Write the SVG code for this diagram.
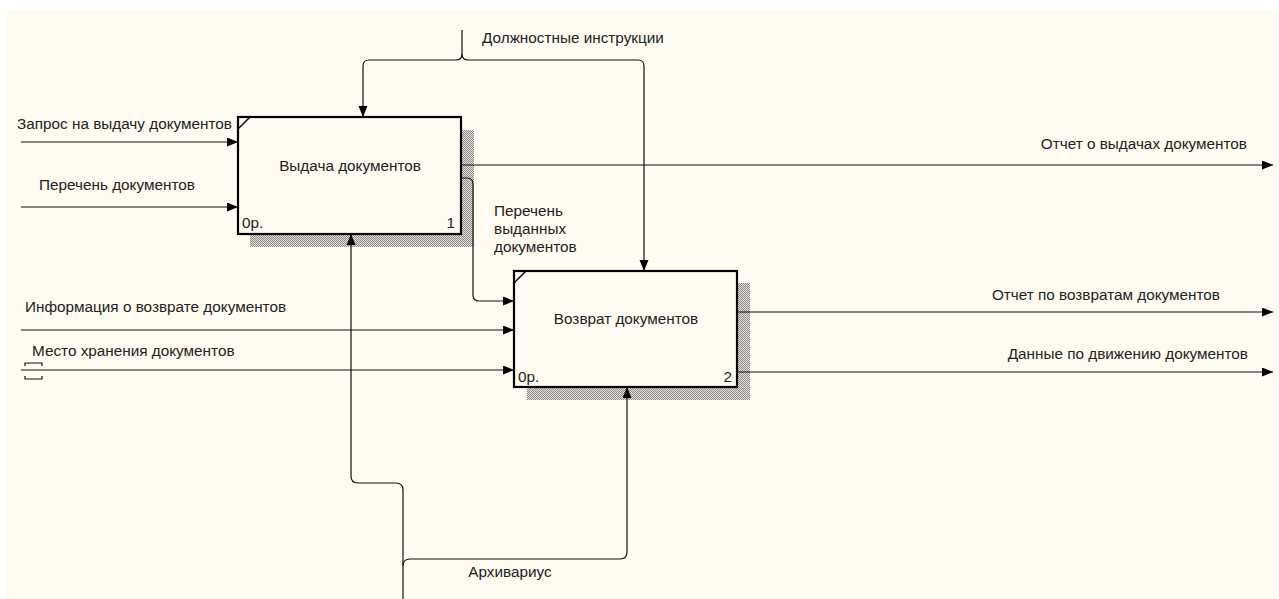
<svg xmlns="http://www.w3.org/2000/svg" width="1279" height="599" viewBox="0 0 1279 599">
<defs>
<style>
.t{font-family:"Liberation Sans",Arial,sans-serif;font-size:15.3px;fill:#222}
.c{fill:none;stroke:#111;stroke-width:1.2}
.box{fill:#FFFBF0;stroke:#000;stroke-width:2.2}
.sh{fill:url(#hatch)}
</style>
<pattern id="hatch" width="2" height="2" patternUnits="userSpaceOnUse">
<rect width="2" height="2" fill="#e6e2d8"/>
<rect x="0" y="0" width="1" height="1" fill="#8a8a8a"/>
<rect x="1" y="1" width="1" height="1" fill="#8a8a8a"/>
</pattern>
<marker id="ar" markerUnits="userSpaceOnUse" markerWidth="12" markerHeight="10" refX="11" refY="4.5" orient="auto">
<path d="M0,0 L11,4.5 L0,9 Z" fill="#000"/>
</marker>
</defs>
<rect x="0" y="0" width="1279" height="599" fill="#ffffff"/>
<rect x="7" y="10" width="1270" height="589" fill="#FFFBF0"/>

<g id="node1">
<rect class="sh" x="461" y="130" width="13" height="117"/>
<rect class="sh" x="250" y="234" width="224" height="13"/>
<rect class="box" x="238" y="117" width="223" height="117"/>
<line x1="238" y1="129" x2="250" y2="117" stroke="#000" stroke-width="1.5"/>
<text class="t" x="350" y="171" text-anchor="middle">Выдача документов</text>
<text class="t" x="242" y="228">0р.</text>
<text class="t" x="455" y="228" text-anchor="end">1</text>
</g>

<g id="node2">
<rect class="sh" x="737" y="283" width="13" height="117"/>
<rect class="sh" x="527" y="387" width="223" height="13"/>
<rect class="box" x="514" y="271" width="223" height="116"/>
<line x1="514" y1="283" x2="526" y2="271" stroke="#000" stroke-width="1.5"/>
<text class="t" x="626" y="324" text-anchor="middle">Возврат документов</text>
<text class="t" x="518" y="382">0р.</text>
<text class="t" x="732" y="382" text-anchor="end">2</text>
</g>

<g id="connectors">
<path class="c" d="M462,30 V54 Q462,60 456,60 H369 Q363,60 363,66 V117" marker-end="url(#ar)"/>
<path class="c" d="M462,54 Q462,60 468,60 H638 Q644,60 644,66 V271" marker-end="url(#ar)"/>
<path class="c" d="M21,142 H238" marker-end="url(#ar)"/>
<path class="c" d="M21,207 H238" marker-end="url(#ar)"/>
<path class="c" d="M21,330 H514" marker-end="url(#ar)"/>
<path class="c" d="M21,370 H514" marker-end="url(#ar)"/>
<path class="c" d="M25,366 V363 H42 V366 M25,376 V379 H42 V376"/>
<path class="c" d="M461,165 H1273" marker-end="url(#ar)"/>
<path class="c" d="M737,312 H1273" marker-end="url(#ar)"/>
<path class="c" d="M737,372 H1273" marker-end="url(#ar)"/>
<path class="c" d="M461,178 H467 Q473,178 473,184 V295 Q473,301 479,301 H514" marker-end="url(#ar)"/>
<path class="c" d="M403,599 V490 Q403,483 396,483 H358 Q351,483 351,476 V234" marker-end="url(#ar)"/>
<path class="c" d="M403,566 Q403,559 410,559 H620 Q627,559 627,552 V387" marker-end="url(#ar)"/>
</g>

<g id="labels">
<text class="t" x="482" y="43">Должностные инструкции</text>
<text class="t" x="17" y="129">Запрос на выдачу документов</text>
<text class="t" x="39" y="190">Перечень документов</text>
<text class="t" x="25" y="312">Информация о возврате документов</text>
<text class="t" x="32" y="356">Место хранения документов</text>
<text class="t" x="1247" y="149" text-anchor="end">Отчет о выдачах документов</text>
<text class="t" x="1220" y="300" text-anchor="end">Отчет по возвратам документов</text>
<text class="t" x="1248" y="359" text-anchor="end">Данные по движению документов</text>
<text class="t" x="494" y="216">Перечень</text>
<text class="t" x="494" y="234">выданных</text>
<text class="t" x="494" y="252">документов</text>
<text class="t" x="510" y="577" text-anchor="middle">Архивариус</text>
</g>
</svg>
